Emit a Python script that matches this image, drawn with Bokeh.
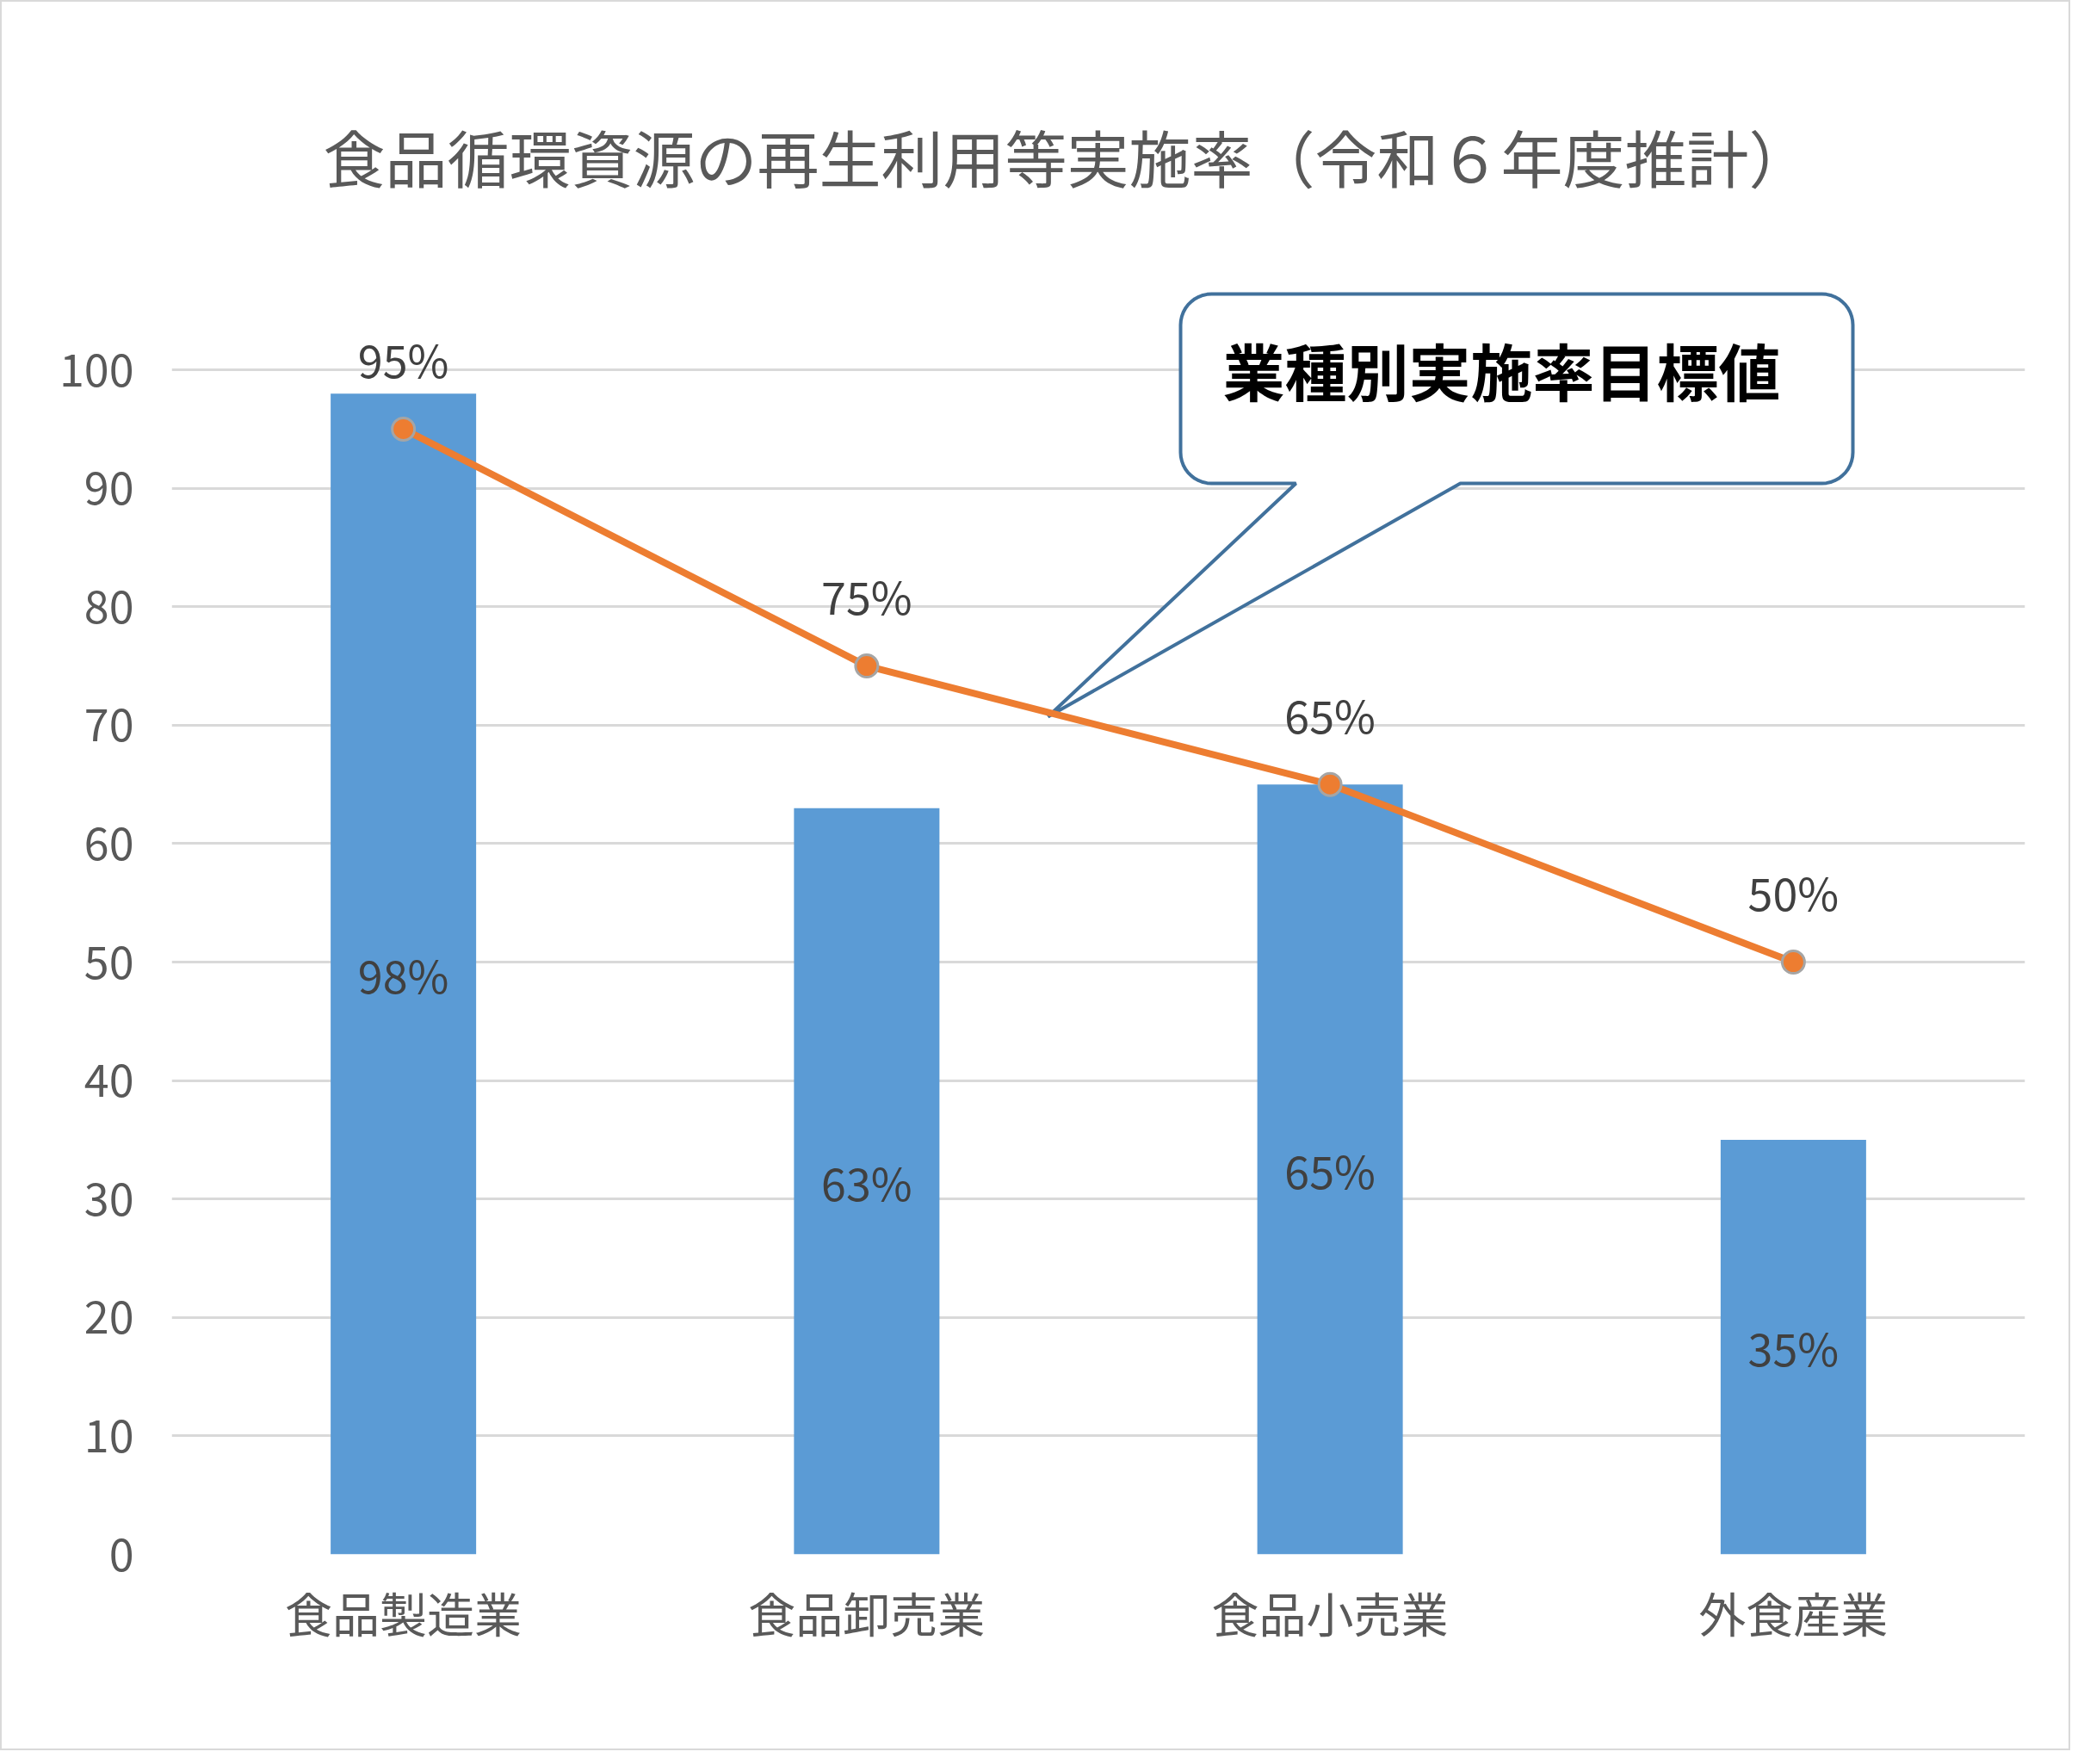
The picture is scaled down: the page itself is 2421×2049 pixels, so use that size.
import numpy as np
from bokeh.plotting import figure
from bokeh.models import FixedTicker
from bokeh.core.properties import value
from bokeh.embed import file_html
from bokeh.resources import INLINE

# ---- data ----
categories = ["食品製造業", "食品卸売業", "食品小売業", "外食産業"]
actual_rates = [98, 63, 65, 35]
target_rates = [95, 75, 65, 50]
y_ticks = [0, 10, 20, 30, 40, 50, 60, 70, 80, 90, 100]
title_text = "食品循環資源の再生利用等実施率（令和６年度推計）"
callout_text = "業種別実施率目標値"

FONT = "Noto Sans CJK JP"

W, H = 2405, 2033
FL, FR, FT, FB = 197, 2350, 262, 1803   # frame edges in canvas px
Y_END = 112

p = figure(x_range=categories, y_range=(0, Y_END), width=W, height=H,
           output_backend="svg", toolbar_location=None,
           min_border_left=FL, min_border_right=W - FR,
           min_border_top=FT, min_border_bottom=H - FB)
p.styles = {"border": "2px solid #d9d9d9", "box-sizing": "border-box"}
p.outline_line_color = None
p.background_fill_color = "white"
p.border_fill_color = "white"

p.title.text = title_text
p.title.text_font = FONT
p.title.text_font_size = "72px"
p.title.text_font_style = "normal"
p.title.text_color = "#595959"
p.title.align = "left"
p.title.standoff = 64
p.title.offset = 176

p.xgrid.grid_line_color = None
p.ygrid.grid_line_color = "#d9d9d9"
p.ygrid.grid_line_width = 3
p.yaxis.ticker = FixedTicker(ticks=y_ticks)
for ax in (p.xaxis, p.yaxis):
    ax.axis_line_color = None
    ax.major_tick_line_color = None
    ax.minor_tick_line_color = None
    ax.major_label_text_font = FONT
    ax.major_label_text_color = "#595959"
p.yaxis.major_label_text_font_size = "52px"
p.xaxis.major_label_text_font_size = "55px"
p.yaxis.major_label_standoff = 38
p.xaxis.major_label_standoff = 20

# ---- callout (speech bubble), geometry in frame pixels converted to data ----
sx = (FR - FL) / len(categories)
sy = (FB - FT) / Y_END
def to_data(px, py):
    return (np.asarray(px) - FL) / sx, (FB - np.asarray(py)) / sy

bx0, bx1, by0, by1, r = 1369, 2150, 339, 559, 36
base_l, base_r = 1503, 1694
tip = (1215, 830)
def arc(cx, cy, a0, a1, n=12):
    t = np.linspace(np.radians(a0), np.radians(a1), n)
    return list(cx + r * np.cos(t)), list(cy - r * np.sin(t))
pxs, pys = [], []
for (cx, cy, a0, a1) in [(bx0 + r, by0 + r, 180, 90), (bx1 - r, by0 + r, 90, 0),
                         (bx1 - r, by1 - r, 0, -90)]:
    ax_, ay_ = arc(cx, cy, a0, a1)
    pxs += ax_; pys += ay_
pxs += [base_r, tip[0], base_l]
pys += [by1, tip[1], by1]
ax_, ay_ = arc(bx0 + r, by1 - r, -90, -180)
pxs += ax_; pys += ay_
cxs, cys = to_data(pxs, pys)
p.patch(list(cxs), list(cys), fill_color="white", line_color="#41719c", line_width=4)
tx, ty = to_data([1742], [426])
p.text(x=list(tx), y=list(ty), text=[callout_text], text_font=value(FONT),
       text_font_size="72px", text_font_style="bold", text_color="black",
       text_align="center", text_baseline="middle")

# ---- bars ----
p.vbar(x=categories, top=actual_rates, width=0.314, fill_color="#5b9bd5", line_color=None)
p.text(x=categories, y=[v / 2 for v in actual_rates], text=[f"{v}%" for v in actual_rates],
       text_font=value(FONT), text_font_size="52px", text_color="#404040",
       text_align="center", text_baseline="middle")

# ---- target line ----
p.line(x=categories, y=target_rates, line_color="#ed7d31", line_width=8)
p.scatter(x=categories, y=target_rates, size=26, fill_color="#ed7d31",
          line_color="#a5a5a5", line_width=3)
p.text(x=categories, y=target_rates, text=[f"{v}%" for v in target_rates],
       y_offset=-82, text_font=value(FONT), text_font_size="52px", text_color="#404040",
       text_align="center", text_baseline="middle")

open("out.html", "w").write(file_html(p, INLINE))
